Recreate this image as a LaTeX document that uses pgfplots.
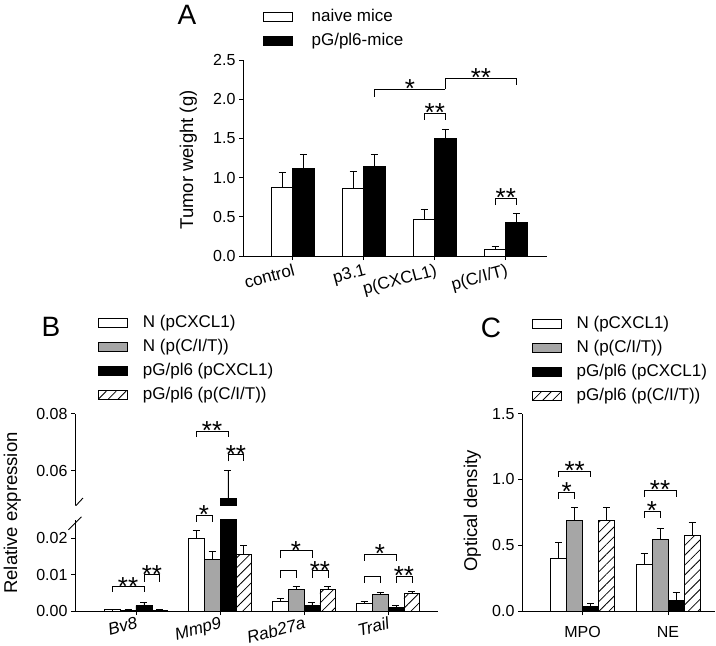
\documentclass[border=0pt]{standalone}
\usepackage{fontspec}
\setmainfont{Liberation Sans}
\usepackage{pgfplots}
\pgfplotsset{compat=1.18}
\usetikzlibrary{patterns.meta,calc}
\definecolor{mygray}{RGB}{166,166,166}

\newcommand{\tickfont}{\fontsize{16}{19}\selectfont}
\newcommand{\legfont}{\fontsize{17}{20}\selectfont}
\newcommand{\labfont}{\fontsize{18.5}{22}\selectfont}
\newcommand{\starfont}{\fontsize{26}{30}\selectfont}
\newcommand{\ttlfont}{\fontsize{28}{32}\selectfont}

\newcommand{\brk}[6]{%
  \draw[line width=0.9pt] (axis cs:#1,#4) -- (axis cs:#1,#3) -- (axis cs:#2,#3) -- (axis cs:#2,#5);
  \node[font=\starfont, anchor=base, inner sep=0pt, yshift=-8.5pt] at ($(axis cs:#1,#3)!0.5!(axis cs:#2,#3)$) {#6};}

\pgfplotsset{
  mybase/.style={
    scale only axis, axis lines*=left, axis line style={line width=0.9pt},
    tick style={line width=0.9pt, black}, tick align=outside, major tick length=4pt,
    ticklabel style={font=\tickfont}, /pgf/number format/assume math mode=true,
    scaled y ticks=false,
    legend style={draw=none, fill=none, inner sep=0pt, outer sep=0pt, font=\legfont, row sep=8pt,
      nodes={inner sep=0pt, text height=12.5pt, text depth=3.5pt},
      /tikz/every odd column/.append style={column sep=15pt}},
    legend cell align=left,
  },
  mybar/.style={ybar, bar width=#1, bar shift=0pt, draw=black, line width=0.9pt,
    legend image code/.code={\draw[##1, line width=0.9pt] (0pt,-4.5pt) rectangle (29pt,4.5pt);},
    error bars/y dir=plus, error bars/y explicit,
    error bars/error bar style={line width=0.9pt, black, solid},
    error bars/error mark options={line width=0.9pt, black, mark size=3.5pt, solid, rotate=90}},
  hatch/.style={pattern={Lines[angle=45,distance=7pt,line width=0.8pt]}, pattern color=black},
}

\begin{document}
\begin{tikzpicture}
\useasboundingbox (0pt,0pt) rectangle (716pt,-646pt);

% ---------------- Panel A ----------------
\begin{axis}[mybase, at={(243pt,-256pt)}, anchor=south west, width=304pt, height=196pt,
  xmin=-0.70, xmax=3.58, ymin=0, ymax=2.5,
  xtick={0,1,2,3}, xticklabels={control,p3.1,p(CXCL1),p(C/I/T)},
  xticklabel style={font=\legfont, rotate=15, anchor=north east, inner sep=1pt, yshift=-2pt},
  ytick={0,0.5,1,1.5,2,2.5},
  yticklabel style={/pgf/number format/fixed, /pgf/number format/fixed zerofill, /pgf/number format/precision=1},
  legend style={at={(axis description cs:0.0648,1.158)}, anchor=west,
    /tikz/every odd column/.append style={column sep=19pt}},
]
\addplot[mybar=0.3, fill=white] coordinates {(-0.15,0.87) +- (0,0.20) (0.85,0.86) +- (0,0.22) (1.85,0.46) +- (0,0.14) (2.85,0.08) +- (0,0.04)};
\addplot[mybar=0.3, fill=black] coordinates {(0.15,1.12) +- (0,0.18) (1.15,1.14) +- (0,0.16) (2.15,1.50) +- (0,0.12) (3.15,0.43) +- (0,0.11)};
\legend{naive mice, pG/pl6-mice}
\brk{1.15}{2.15}{2.126}{2.03}{2.126}{*}
\brk{2.15}{3.15}{2.266}{2.126}{2.18}{**}
\brk{1.85}{2.15}{1.82}{1.735}{1.735}{**}
\brk{2.85}{3.15}{0.736}{0.65}{0.65}{**}
\end{axis}

% ---------------- Panel B lower ----------------
\begin{axis}[mybase, at={(75pt,-611pt)}, anchor=south west, width=363pt, height=91.25pt,
  xmin=-0.726, xmax=3.595, ymin=0, ymax=0.025, clip mode=individual,
  xtick={0,1,2,3}, xticklabels={Bv8,Mmp9,Rab27a,Trail},
  xticklabel style={font=\legfont\itshape, rotate=15, anchor=north east, inner sep=1pt},
  ytick={0,0.01,0.02},
  yticklabel style={/pgf/number format/fixed, /pgf/number format/fixed zerofill, /pgf/number format/precision=2},
  legend style={at={(axis description cs:0.0634,2.765)}, anchor=west},
]
\addplot[mybar=0.19, fill=white] coordinates {(-0.285,0.0003) +- (0,0.0001) (0.715,0.0199) +- (0,0.0021) (1.715,0.0027) +- (0,0.0008) (2.715,0.0021) +- (0,0.0005)};
\addplot[mybar=0.19, fill=mygray] coordinates {(-0.095,0.0002) +- (0,0.0001) (0.905,0.0140) +- (0,0.0023) (1.905,0.0060) +- (0,0.0008) (2.905,0.0044) +- (0,0.0006)};
\addplot[mybar=0.19, fill=black] coordinates {(0.095,0.0015) +- (0,0.0008) (1.095,0.0502) +- (0,0) (2.095,0.0015) +- (0,0.0008) (3.095,0.0009) +- (0,0.0006)};
\addplot[mybar=0.19, hatch] coordinates {(0.285,0.0002) +- (0,0.0001) (1.285,0.0156) +- (0,0.0024) (2.285,0.0059) +- (0,0.0008) (3.285,0.0048) +- (0,0.0005)};
\legend{N (pCXCL1), N (p(C/I/T)), pG/pl6 (pCXCL1), pG/pl6 (p(C/I/T))}
\brk{-0.285}{0.095}{0.0067}{0.0053}{0.0053}{**}
\brk{0.095}{0.285}{0.0099}{0.0080}{0.0080}{**}
\brk{0.715}{0.905}{0.0263}{0.0245}{0.0245}{*}
\brk{1.715}{2.095}{0.0165}{0.0144}{0.0144}{*}
\brk{1.715}{1.905}{0.0110}{0.0090}{0.0090}{}
\brk{2.095}{2.285}{0.0110}{0.0090}{0.0090}{**}
\brk{2.715}{3.095}{0.0156}{0.0138}{0.0138}{*}
\brk{2.715}{2.905}{0.0096}{0.0078}{0.0078}{}
\brk{3.095}{3.285}{0.0096}{0.0078}{0.0078}{**}
\draw[line width=0.9pt] ([xshift=-6.5pt,yshift=-10pt]rel axis cs:0,1) -- ++(13pt,13pt);
\end{axis}

% ---------------- Panel B upper ----------------
\begin{axis}[mybase, at={(75pt,-505pt)}, anchor=south west, width=363pt, height=91.2pt,
  xmin=-0.726, xmax=3.595, ymin=0.048, ymax=0.08, hide x axis,
  ytick={0.06,0.08},
  yticklabel style={/pgf/number format/fixed, /pgf/number format/fixed zerofill, /pgf/number format/precision=2},
]
\addplot[mybar=0.19, fill=black] coordinates {(1.095,0.0502) +- (0,0.0098)};
\brk{0.715}{1.095}{0.0738}{0.0718}{0.0718}{**}
\brk{1.095}{1.285}{0.0656}{0.0633}{0.0633}{**}
\draw[line width=0.9pt] ([xshift=-5pt,yshift=-7pt]rel axis cs:0,0) -- ++(13pt,14pt);
\end{axis}

% ---------------- Panel C ----------------
\begin{axis}[mybase, at={(522pt,-611pt)}, anchor=south west, width=193pt, height=197.4pt,
  xmin=-0.71, xmax=1.55, ymin=0, ymax=1.5,
  xtick={0,1}, xticklabels={MPO,NE},
  xticklabel style={font=\tickfont, yshift=-8pt},
  ytick={0,0.5,1,1.5},
  yticklabel style={/pgf/number format/fixed, /pgf/number format/fixed zerofill, /pgf/number format/precision=1},
  legend style={at={(axis description cs:0.0503,1.272)}, anchor=west},
]
\addplot[mybar=0.1875, fill=white] coordinates {(-0.281,0.40) +- (0,0.12) (0.719,0.35) +- (0,0.09)};
\addplot[mybar=0.1875, fill=mygray] coordinates {(-0.094,0.685) +- (0,0.10) (0.906,0.54) +- (0,0.09)};
\addplot[mybar=0.1875, fill=black] coordinates {(0.094,0.035) +- (0,0.025) (1.094,0.08) +- (0,0.06)};
\addplot[mybar=0.1875, hatch] coordinates {(0.281,0.685) +- (0,0.10) (1.281,0.575) +- (0,0.095)};
\legend{N (pCXCL1), N (p(C/I/T)), pG/pl6 (pCXCL1), pG/pl6 (p(C/I/T))}
\brk{-0.281}{-0.094}{0.904}{0.854}{0.854}{*}
\brk{-0.281}{0.094}{1.064}{1.02}{1.02}{**}
\brk{0.719}{0.906}{0.76}{0.71}{0.71}{*}
\brk{0.719}{1.094}{0.917}{0.866}{0.866}{**}
\end{axis}

\node[font=\ttlfont] at (187pt,-15pt) {A};
\node[font=\ttlfont] at (51pt,-327pt) {B};
\node[font=\ttlfont] at (491pt,-328pt) {C};
\node[font=\labfont, rotate=90, anchor=base] at (193pt,-160pt) {Tumor weight (g)};
\node[font=\labfont, rotate=90, anchor=base] at (17pt,-513pt) {Relative expression};
\node[font=\labfont, rotate=90, anchor=base] at (477pt,-511pt) {Optical density};
\end{tikzpicture}
\end{document}
